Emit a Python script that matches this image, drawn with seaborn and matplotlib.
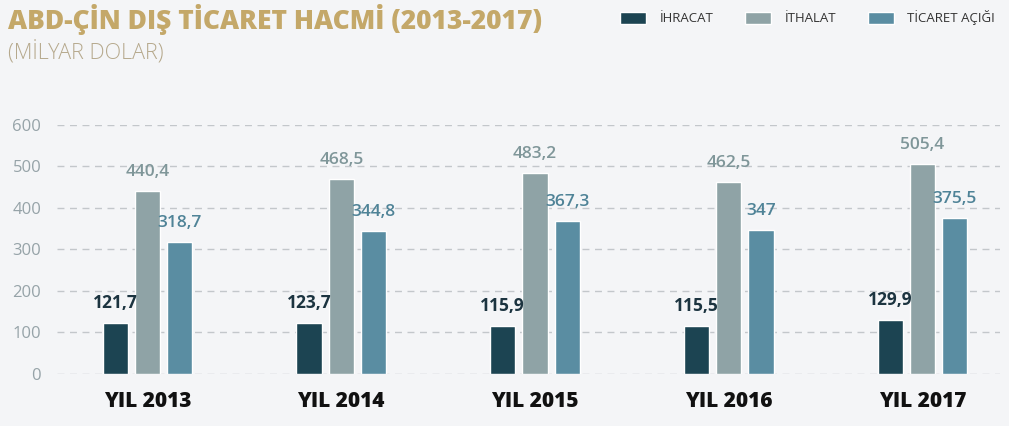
import numpy as np
import pandas as pd
import seaborn as sns
import matplotlib.pyplot as plt
from matplotlib.patches import Patch

years = ["YIL 2013", "YIL 2014", "YIL 2015", "YIL 2016", "YIL 2017"]
series = ["İHRACAT", "İTHALAT", "TİCARET AÇIĞI"]
ihracat = [121.7, 123.7, 115.9, 115.5, 129.9]
ithalat = [440.4, 468.5, 483.2, 462.5, 505.4]
ticaret_acigi = [318.7, 344.8, 367.3, 347.0, 375.5]
yticks = [0, 100, 200, 300, 400, 500, 600]

colors = ["#1c4452", "#8fa3a6", "#5a8da2"]
label_colors = ["#1c3440", "#7f9699", "#4f8397"]

df = pd.DataFrame({
    "yil": years * 3,
    "tur": [series[0]] * 5 + [series[1]] * 5 + [series[2]] * 5,
    "deger": ihracat + ithalat + ticaret_acigi,
})

sns.set_style("white")
plt.rcParams['font.family'] = ['Open Sans', 'DejaVu Sans']

fig = plt.figure(figsize=(10.09, 4.26), dpi=100)
fig.patch.set_facecolor("#f4f5f7")
ax = fig.add_axes([0.056, 0.122, 0.935, 0.585])
ax.set_facecolor("#f4f5f7")

sns.barplot(data=df, x="yil", y="deger", hue="tur", palette=colors,
            width=0.5, gap=0.22, ax=ax, legend=False, saturation=1)

def fmt(v):
    s = ("%.1f" % v).replace(".", ",")
    if s.endswith(",0"):
        s = s[:-2]
    return s

for i, cont in enumerate(ax.containers):
    vals = df[df["tur"] == series[i]]["deger"].tolist()
    ax.bar_label(cont, labels=[fmt(v) for v in vals], padding=8,
                 color=label_colors[i], fontsize=12.5,
                 fontweight="bold" if i == 0 else "semibold")

ax.set_ylim(0, 600)
ax.set_xlim(-0.47, 4.4)
ax.set_yticks(yticks)
ax.set_yticklabels([str(t) for t in yticks], color="#96a3a8", fontsize=12)
ax.tick_params(axis="y", length=0, pad=11)
ax.tick_params(axis="x", length=0, pad=12)
for lab in ax.get_xticklabels():
    lab.set_fontsize(15)
    lab.set_fontweight("heavy")
    lab.set_color("#111111")
ax.set_xlabel("")
ax.set_ylabel("")
ax.yaxis.grid(True, linestyle=(0, (5, 4)), color="#c3c7cb", linewidth=1)
ax.set_axisbelow(True)
sns.despine(ax=ax, left=True, bottom=True)

fig.text(0.008, 0.955, "ABD-ÇİN DIŞ TİCARET HACMİ (2013-2017)", color="#c4a869",
         fontsize=19, fontweight="heavy", va="center", ha="left")
fig.text(0.008, 0.878, "(MİLYAR DOLAR)", color="#b6a98d", fontsize=15.5,
         fontweight="light", va="center", ha="left")

handles = [Patch(facecolor=c, label=s) for c, s in zip(colors, series)]
fig.legend(handles=handles, loc="center right", bbox_to_anchor=(0.998, 0.958),
           ncol=3, frameon=False, fontsize=9.5, handlelength=2.0, handleheight=1.1,
           columnspacing=2.4, handletextpad=1.0, labelcolor="#333333")

fig.savefig("out.png", dpi=100, facecolor=fig.get_facecolor())
